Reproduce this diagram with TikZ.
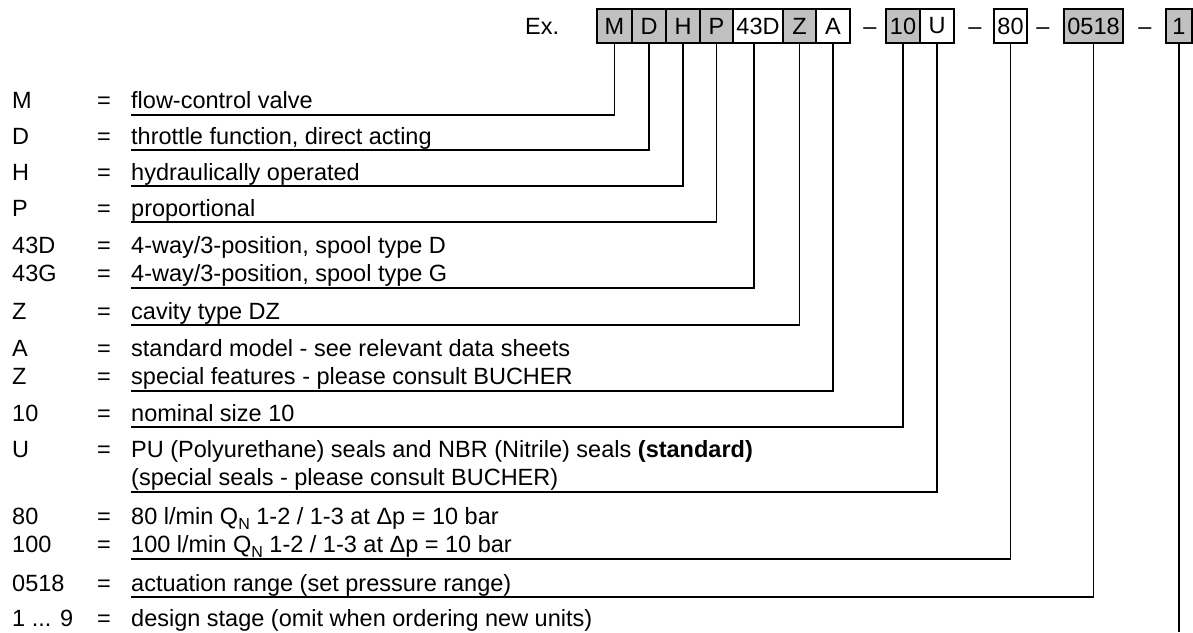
\documentclass[tikz,border=0pt]{standalone}
\usepackage{fontspec}
\setmainfont{Liberation Sans}
\newcommand{\mainfs}{\fontsize{23.5}{28}\selectfont}
\newcommand{\subN}{\raisebox{-0.22em}{\fontsize{16}{16}\selectfont N}}
\definecolor{boxgray}{RGB}{192,192,192}
\begin{document}
\begin{tikzpicture}[x=1pt,y=-1pt,
  box/.style={draw=black, line width=1.2pt, minimum height=34pt, inner sep=0pt, font=\mainfs},
  gbox/.style={box, fill=boxgray},
  wbox/.style={box, fill=white},
  lbl/.style={anchor=base west, inner sep=0pt, font=\mainfs},
  dsh/.style={anchor=base, inner sep=0pt, font=\mainfs},
  conn/.style={line width=1.3pt, black},
]
\useasboundingbox (0,0) rectangle (1193,632);

% header
\node[lbl] (ex) at (525,34.4) {Ex.};
\node[gbox, minimum width=35pt] (bM)  at (614.5,26) {M};
\node[gbox, minimum width=34pt] (bD)  at (649,26) {D};
\node[gbox, minimum width=34pt] (bH)  at (683,26) {H};
\node[gbox, minimum width=33pt] (bP)  at (716.5,26) {P};
\node[wbox, minimum width=50pt] (b43) at (758,26) {43D};
\node[gbox, minimum width=33pt] (bZ)  at (799.5,26) {Z};
\node[wbox, minimum width=34pt] (bA)  at (833,26) {A};
\node[dsh] (d1) at (870,34.4) {–};
\node[gbox, minimum width=34pt] (b10) at (903,26) {10};
\node[wbox, minimum width=34pt] (bU)  at (937,26) {U};
\node[dsh] (d2) at (975,34.4) {–};
\node[wbox, minimum width=33pt] (b80) at (1010.5,26) {80};
\node[dsh] (d3) at (1043,34.4) {–};
\node[gbox, minimum width=59pt] (b05) at (1093.5,26) {0518};
\node[dsh] (d4) at (1145,34.4) {–};
\node[gbox, minimum width=26pt] (b1)  at (1179,26) {1};

% left column: codes
\foreach \code/\yb [count=\i] in {M/108, D/144, H/180, P/216, 43D/253, 43G/281, Z/319,
   A/356, Z/384, 10/421, U/457, 80/524, 100/552, 0518/591}{
  \node[lbl] (c\i) at (12,\yb) {\code};
  \node[lbl] (q\i) at (97,\yb) {=};
}
\node[lbl] (c15) at (12,626) {1 ... 9};
\node[lbl] (q15) at (97,626) {=};

% descriptions
\node[lbl] (tM)  at (131,108) {flow-control valve};
\node[lbl] (tD)  at (131,144) {throttle function, direct acting};
\node[lbl] (tH)  at (131,180) {hydraulically operated};
\node[lbl] (tP)  at (131,216) {proportional};
\node[lbl] (t43a) at (131,253) {4-way/3-position, spool type D};
\node[lbl] (t43b) at (131,281) {4-way/3-position, spool type G};
\node[lbl] (tZ)  at (131,319) {cavity type DZ};
\node[lbl] (tAa) at (131,356) {standard model - see relevant data sheets};
\node[lbl] (tAb) at (131,384) {special features - please consult BUCHER};
\node[lbl] (t10) at (131,421) {nominal size 10};
\node[lbl] (tUa) at (131,457) {PU (Polyurethane) seals and NBR (Nitrile) seals \textbf{(standard)}};
\node[lbl] (tUb) at (131,485) {(special seals - please consult BUCHER)};
\node[lbl] (t80a) at (131,524) {80 l/min Q\subN{} 1-2 / 1-3 at Δp = 10 bar};
\node[lbl] (t80b) at (131,552) {100 l/min Q\subN{} 1-2 / 1-3 at Δp = 10 bar};
\node[lbl] (t05) at (131,591) {actuation range (set pressure range)};
\node[lbl] (t1)  at (131,626) {design stage (omit when ordering new units)};

% connector ends
\coordinate (eM)  at (131,115);
\coordinate (eD)  at (131,150);
\coordinate (eH)  at (131,186);
\coordinate (eP)  at (131,222);
\coordinate (e43) at (131,288);
\coordinate (eZ)  at (131,325);
\coordinate (eA)  at (131,391);
\coordinate (e10) at (131,427);
\coordinate (eU)  at (131,492);
\coordinate (e80) at (131,559);
\coordinate (e05) at (131,597);
\coordinate (e1)  at (1179,632);

\draw[conn] (bM.south) |- (eM);
\draw[conn] (bD.south) |- (eD);
\draw[conn] (bH.south) |- (eH);
\draw[conn] (bP.south) |- (eP);
\draw[conn] ([xshift=-4pt]b43.south) |- (e43);
\draw[conn] (bZ.south) |- (eZ);
\draw[conn] (bA.south) |- (eA);
\draw[conn] (b10.south) |- (e10);
\draw[conn] (bU.south) |- (eU);
\draw[conn] (b80.south) |- (e80);
\draw[conn] (b05.south) |- (e05);
\draw[conn] (b1.south) -- (e1);
\end{tikzpicture}
\end{document}
